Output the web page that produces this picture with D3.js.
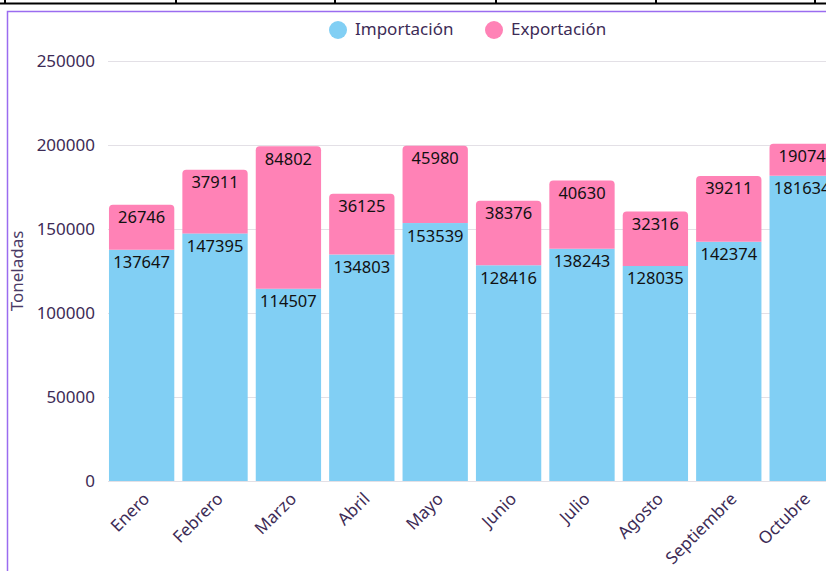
<!DOCTYPE html>
<html><head><meta charset="utf-8">
<script src="https://cdn.jsdelivr.net/npm/d3@7"></script>
<style>body{margin:0;background:#fff;}svg{display:block;font-family:"Noto Sans",sans-serif;}</style>
</head><body><svg id="c" width="826" height="571"></svg>
<script>
const months = ["Enero","Febrero","Marzo","Abril","Mayo","Junio","Julio","Agosto","Septiembre","Octubre"];
const importacion = [137647,147395,114507,134803,153539,128416,138243,128035,142374,181634];
const exportacion = [26746,37911,84802,36125,45980,38376,40630,32316,39211,19074];
const yTicks = [0,50000,100000,150000,200000,250000];
const seriesNames = ["Importación","Exportación"];
const colors = ["#81cff4","#ff82b6"];

const svg = d3.select("#c");
// table border at top
svg.append("line").attr("x1",0).attr("x2",826).attr("y1",3.5).attr("y2",3.5).attr("stroke","#000").attr("stroke-width",2);
[5,176,335,496,656,815].forEach(x=>svg.append("line").attr("x1",x).attr("x2",x).attr("y1",0).attr("y2",4).attr("stroke","#000").attr("stroke-width",2));
// container
svg.append("rect").attr("x",7.5).attr("y",11.5).attr("width",900).attr("height",700)
  .attr("fill","none").attr("stroke","#9a6cf0").attr("stroke-width",1.5);

const y = d3.scaleLinear().domain([0,250000]).range([481,61]);
const x = d3.scaleBand().domain(months).range([105.3,838.5]).paddingInner(0.11).paddingOuter(0.05);

const g = svg.append("g");
g.selectAll(".grid").data(yTicks).join("line")
  .attr("x1",108).attr("x2",826).attr("y1",d=>Math.round(y(d))+0.5).attr("y2",d=>Math.round(y(d))+0.5)
  .attr("stroke","#e3e0e6").attr("stroke-width",1);

const yAxis = d3.axisLeft(y).tickValues(yTicks).tickSize(0).tickPadding(0).tickFormat(d3.format("d"));
const ya = svg.append("g").attr("transform","translate(95,0)").call(yAxis);
ya.select(".domain").remove();
ya.selectAll("text").attr("fill","#3d2b56").attr("font-size",17).attr("font-family","Noto Sans");

svg.append("text").attr("transform","translate(23,271) rotate(-90)").attr("text-anchor","middle")
  .attr("fill","#4a3a66").attr("font-size",17).text("Toneladas");

const xAxis = d3.axisBottom(x).tickSize(0).tickPadding(0);
const xa = svg.append("g").attr("transform","translate(0,481)").call(xAxis);
xa.select(".domain").remove();
xa.selectAll("text").attr("fill","#3d2b56").attr("font-size",17).attr("font-family","Noto Sans")
  .attr("text-anchor","end").attr("dy",0).attr("y",0)
  .attr("transform","translate(9,19) rotate(-45)");

const stack = months.map((m,i)=>({m, imp:importacion[i], exp:exportacion[i]}));
function topRounded(x0,y0,w,h,r){
  return `M${x0},${y0+h}V${y0+r}Q${x0},${y0} ${x0+r},${y0}H${x0+w-r}Q${x0+w},${y0} ${x0+w},${y0+r}V${y0+h}Z`;
}
const bars = svg.append("g");
stack.forEach(d=>{
  const bx = x(d.m), bw = x.bandwidth();
  const yi = y(d.imp), yt = y(d.imp+d.exp);
  bars.append("rect").attr("x",bx).attr("y",yi).attr("width",bw).attr("height",y(0)-yi).attr("fill",colors[0]);
  bars.append("path").attr("d",topRounded(bx,yt,bw,yi-yt,4)).attr("fill",colors[1]);
  bars.append("text").attr("x",bx+bw/2).attr("y",yt+18.5).attr("text-anchor","middle").attr("font-size",16.5).attr("fill","#111").text(d.exp);
  bars.append("text").attr("x",bx+bw/2).attr("y",yi+18.5).attr("text-anchor","middle").attr("font-size",16.5).attr("fill","#111").text(d.imp);
});

// legend
const leg = svg.append("g");
[[338,355],[494,511]].forEach((p,i)=>{
  leg.append("circle").attr("cx",p[0]).attr("cy",30).attr("r",9).attr("fill",colors[i]);
  leg.append("text").attr("x",p[1]).attr("y",35).attr("font-size",17).attr("fill","#3d2b56").text(seriesNames[i]);
});
</script></body></html>
